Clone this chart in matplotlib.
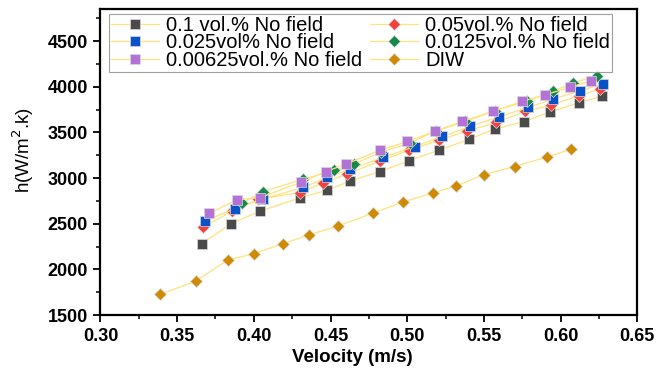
import matplotlib
matplotlib.use('Agg')
import matplotlib.pyplot as plt

plt.rcParams['font.family'] = ['Liberation Sans', 'DejaVu Sans']

# velocity (m/s) and heat transfer coefficient h (W/m2.k)
v_01 = [0.366, 0.385, 0.404, 0.430, 0.448, 0.463, 0.482, 0.501, 0.521, 0.540,
        0.557, 0.576, 0.593, 0.612, 0.627]
h_01 = [2282, 2498, 2637, 2783, 2867, 2969, 3068, 3189, 3306, 3422,
        3536, 3616, 3723, 3825, 3894]

v_005 = [0.367, 0.386, 0.403, 0.430, 0.445, 0.461, 0.482, 0.501, 0.521, 0.539,
         0.558, 0.577, 0.594, 0.612, 0.626]
h_005 = [2462, 2640, 2769, 2841, 2947, 3043, 3185, 3302, 3416, 3514,
         3609, 3729, 3799, 3901, 3975]

v_0025 = [0.368, 0.388, 0.406, 0.432, 0.448, 0.463, 0.484, 0.505, 0.523, 0.541,
          0.560, 0.579, 0.595, 0.613, 0.628]
h_0025 = [2531, 2666, 2769, 2898, 3006, 3098, 3225, 3345, 3455, 3565,
          3671, 3773, 3865, 3956, 4033]

v_00125 = [0.392, 0.406, 0.432, 0.452, 0.465, 0.483, 0.502, 0.519, 0.538,
           0.557, 0.578, 0.595, 0.608, 0.624]
h_00125 = [2725, 2852, 2986, 3084, 3152, 3282, 3386, 3518, 3620,
           3737, 3839, 3949, 4041, 4121]

v_000625 = [0.371, 0.389, 0.404, 0.431, 0.447, 0.460, 0.482, 0.500, 0.518, 0.536,
            0.556, 0.575, 0.590, 0.606, 0.620]
h_000625 = [2615, 2761, 2786, 2955, 3071, 3152, 3302, 3400, 3510, 3620,
            3729, 3839, 3912, 3992, 4066]

v_diw = [0.339, 0.362, 0.383, 0.400, 0.419, 0.436, 0.455, 0.478, 0.497, 0.517,
         0.532, 0.550, 0.570, 0.591, 0.607]
h_diw = [1727, 1870, 2103, 2172, 2282, 2377, 2476, 2618, 2736, 2838,
         2914, 3038, 3126, 3229, 3317]

series = [
    (v_01, h_01, '0.1 vol.% No field', 's', '#4a4a4a'),
    (v_005, h_005, '0.05vol.% No field', 'D', '#f5403c'),
    (v_0025, h_0025, '0.025vol% No field', 's', '#0a52c8'),
    (v_00125, h_00125, '0.0125vol.% No field', 'D', '#14894a'),
    (v_000625, h_000625, '0.00625vol.% No field', 's', '#b373d6'),
    (v_diw, h_diw, 'DIW', 'D', '#d08a00'),
]

fig = plt.figure(figsize=(6.61, 3.76), dpi=100)
ax = fig.add_axes([0.152, 0.162, 0.812, 0.814])

lines = []
for v, h, label, mk, col in series:
    ms = 6.5 if mk == 's' else 5.8
    ln, = ax.plot(v, h, color='#ffe27a', lw=0.9, marker=mk, markersize=ms,
                  markerfacecolor=col, markeredgecolor='#d8d8d8', markeredgewidth=0.5,
                  label=label)
    lines.append(ln)

ax.set_xlim(0.30, 0.65)
ax.set_ylim(1500, 4850)
ax.set_xticks([0.30, 0.35, 0.40, 0.45, 0.50, 0.55, 0.60, 0.65])
ax.set_yticks([1500, 2000, 2500, 3000, 3500, 4000, 4500])
ax.set_xticks([0.325, 0.375, 0.425, 0.475, 0.525, 0.575, 0.625], minor=True)
ax.set_yticks([1750, 2250, 2750, 3250, 3750, 4250, 4750], minor=True)
ax.xaxis.set_major_formatter(matplotlib.ticker.FormatStrFormatter('%.2f'))

ax.tick_params(which='major', direction='out', length=5, width=1.3, labelsize=13, pad=4)
ax.tick_params(which='minor', direction='out', length=3, width=1.1)
for lab in ax.get_xticklabels() + ax.get_yticklabels():
    lab.set_fontweight('bold')
for sp in ax.spines.values():
    sp.set_linewidth(1.6)

ax.set_xlabel('Velocity (m/s)', fontsize=13.5, fontweight='bold')
ax.set_ylabel('h(W/m$^2$.k)', fontsize=13.5)
ax.xaxis.set_label_coords(0.469, -0.11)
ax.yaxis.set_label_coords(-0.12, 0.54)

# legend is filled row by row in the original, matplotlib fills by column
order = [0, 2, 4, 1, 3, 5]
leg = ax.legend([lines[i] for i in order], [series[i][2] for i in order],
                ncol=2, loc='upper left', bbox_to_anchor=(0.016, 0.984),
                borderaxespad=0, fontsize=14.5, frameon=True, fancybox=False,
                edgecolor='#888888', handlelength=2.4, handletextpad=0.35,
                columnspacing=0.35, labelspacing=-0.08, borderpad=0.1)
leg.get_frame().set_linewidth(0.8)

fig.savefig('out.png', dpi=100)
